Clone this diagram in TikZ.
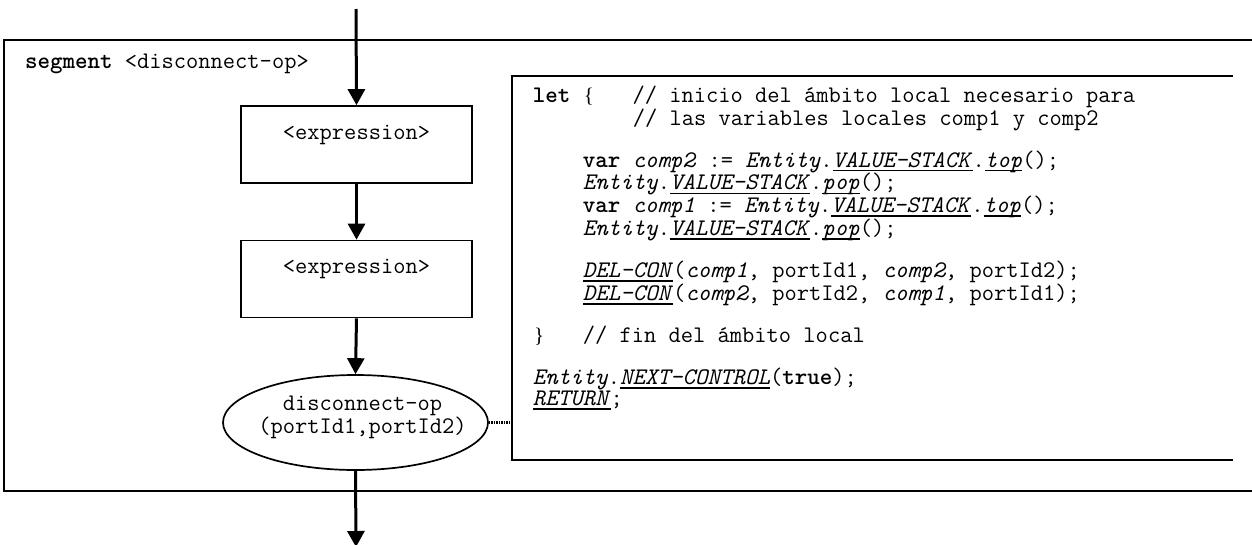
\documentclass[tikz,border=0pt]{standalone}
\usepackage{fontspec}
\newfontfamily\brfont{Liberation Serif}
\usetikzlibrary{arrows.meta,shapes.geometric}
\newcommand\ulx[1]{\setbox0\hbox{#1}\rlap{\rule[-4pt]{\wd0}{1.4pt}}\box0}
\newcommand\brc[1]{\makebox[0.525em][c]{\brfont\fontsize{20.8}{21}\selectfont#1}}
\newcommand\ind[1]{\hspace*{\dimexpr 0.525em*#1\relax}}
\begin{document}
\begin{tikzpicture}[x=1pt,y=-1pt,
  every node/.style={font=\ttfamily\fontsize{23.8}{21}\selectfont},
  frame/.style={line width=2pt},
  exprbox/.style={draw, line width=1.7pt, minimum width=231pt, text height=33pt, text depth=44pt, inner sep=0pt},
  opellipse/.style={draw, ellipse, line width=1.7pt, minimum width=265pt, minimum height=95pt, inner sep=0pt},
  flow/.style={line width=3pt, -{Triangle[width=17pt,length=16pt]}},
  link/.style={line width=2.6pt, dash pattern=on 1.5pt off 1pt},
  code/.style={align=left, inner sep=0pt, anchor=north west}]
\useasboundingbox (0,0) rectangle (1252,544);
% frames
\draw[frame] (1256,40) -- (4,40) -- (4,491) -- (1256,491);
\draw[frame] (1233,76) -- (512,76) -- (512,460) -- (1233,460);
\node[anchor=base west, inner sep=0pt] (seg) at (25,68) {\textbf{segment} <disconnect-op>};
% flow
\coordinate (top) at (356,9);
\coordinate (bot) at (356,547);
\coordinate (cb) at (512,422.5);
\node[exprbox] (e1) at (356.5,144.5) {<expression>};
\node[exprbox] (e2) at (356.5,279) {<expression>};
\node[opellipse] (op) at (355.5,422.5) {};
\node[anchor=north, inner sep=0pt, align=center, font=\ttfamily\fontsize{23.8}{23.3}\selectfont] (opl) at (362.5,392) {\rule{0pt}{18pt}disconnect-op\\(portId1,portId2)};
\draw[flow] (top) -- (e1.north);
\draw[flow] (e1.south) -- (e2.north);
\draw[flow] (e2.south) -- (op.north);
\draw[flow] (op.south) -- (bot);
\draw[link] (op.east) -- (cb);
% code
\node[code] (codetext) at (532.7,84) {\rule{0pt}{18pt}\textbf{let} \brc{\{}\ind{3}// inicio del ámbito local necesario para\\
\ind{8}// las variables locales comp1 y comp2\\
\mbox{}\\
\ind{4}\textbf{var} \textit{comp2} := \textit{Entity}.\ulx{\textit{VALUE-STACK}}.\ulx{\textit{top}}();\\
\ind{4}\textit{Entity}.\ulx{\textit{VALUE-STACK}}.\ulx{\textit{pop}}();\\
\ind{4}\textbf{var} \textit{comp1} := \textit{Entity}.\ulx{\textit{VALUE-STACK}}.\ulx{\textit{top}}();\\
\ind{4}\textit{Entity}.\ulx{\textit{VALUE-STACK}}.\ulx{\textit{pop}}();\\
\mbox{}\\
\ind{4}\ulx{\textit{DEL-CON}}(\textit{comp1}, portId1, \textit{comp2}, portId2);\\
\ind{4}\ulx{\textit{DEL-CON}}(\textit{comp2}, portId2, \textit{comp1}, portId1);\\
\mbox{}\\
\brc{\}}\ind{3}// fin del ámbito local\\
\mbox{}\\
\textit{Entity}.\ulx{\textit{NEXT-CONTROL}}(\textbf{true});\\
\ulx{\textit{RETURN}};};
\end{tikzpicture}
\end{document}
